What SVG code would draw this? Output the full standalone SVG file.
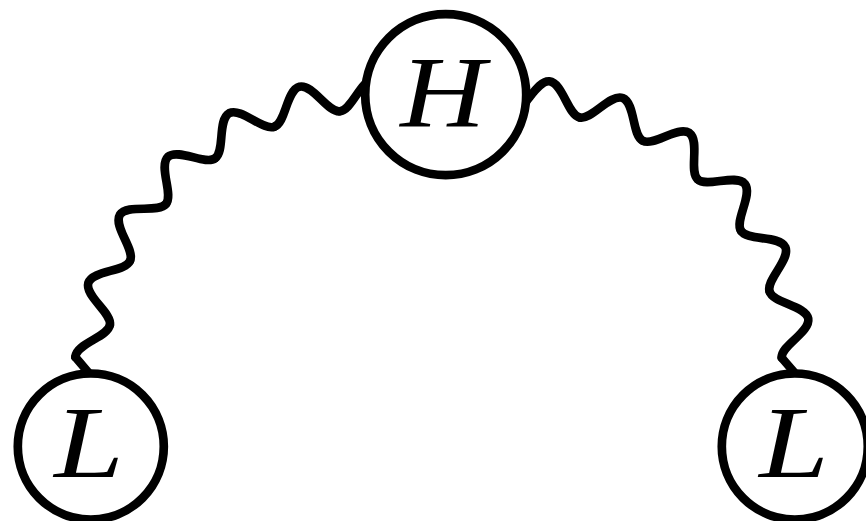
<svg xmlns="http://www.w3.org/2000/svg" xmlns:xlink="http://www.w3.org/1999/xlink" width="866" height="521" viewBox="0 0 866 521">
<style>
.wave{fill:none;stroke:#000;stroke-width:8.6;stroke-linecap:round;stroke-linejoin:round}
.node circle{fill:#fff;stroke:#000;stroke-width:8.7}
.node text{font-family:"Liberation Serif","DejaVu Serif",serif;font-style:italic;font-size:101px;text-anchor:middle;fill:#000}
</style>
<defs>
<path id="wavePeriod" d="M-33.600 -257.820C-21.427 -259.115 -13.695 -290.678 0 -291C13.695 -290.678 21.427 -259.115 33.600 -257.820"/>
</defs>
<rect width="866" height="521" fill="#fff"/>
<g id="connectors" class="wave">
 <g id="wave-H-L1">
  <g transform="translate(366 370)">
   <use href="#wavePeriod" xlink:href="#wavePeriod" transform="rotate(1.65)"/>
   <use href="#wavePeriod" xlink:href="#wavePeriod" transform="rotate(-13.2)"/>
   <use href="#wavePeriod" xlink:href="#wavePeriod" transform="rotate(-28.05)"/>
   <use href="#wavePeriod" xlink:href="#wavePeriod" transform="rotate(-42.9)"/>
   <use href="#wavePeriod" xlink:href="#wavePeriod" transform="rotate(-57.75)"/>
   <use href="#wavePeriod" xlink:href="#wavePeriod" transform="rotate(-72.6)"/>
   <path transform="rotate(-87.45)" d="M33.600 -257.820C21.427 -259.115 13.695 -290.678 0 -291"/>
  </g>
  <path d="M75.3 357.05L88 372"/>
 </g>
 <g id="wave-H-L2">
  <g transform="translate(522 371)">
   <use href="#wavePeriod" xlink:href="#wavePeriod" transform="rotate(5.4)"/>
   <use href="#wavePeriod" xlink:href="#wavePeriod" transform="rotate(20.25)"/>
   <use href="#wavePeriod" xlink:href="#wavePeriod" transform="rotate(35.1)"/>
   <use href="#wavePeriod" xlink:href="#wavePeriod" transform="rotate(49.95)"/>
   <use href="#wavePeriod" xlink:href="#wavePeriod" transform="rotate(64.8)"/>
   <use href="#wavePeriod" xlink:href="#wavePeriod" transform="rotate(79.65)"/>
  </g>
  <path d="M781.66 357.76L794 372"/>
 </g>
</g>
<g id="node-H" class="node">
 <circle cx="445.7" cy="94.7" r="80.5"/>
 <text transform="translate(443 127.3) scale(1.17 1)">H</text>
</g>
<g id="node-L1" class="node">
 <circle cx="90.8" cy="446.5" r="73"/>
 <text transform="translate(89 477) scale(1.24 1)">L</text>
</g>
<g id="node-L2" class="node">
 <circle cx="794.8" cy="446.5" r="73"/>
 <text transform="translate(794 477) scale(1.24 1)">L</text>
</g>
</svg>
